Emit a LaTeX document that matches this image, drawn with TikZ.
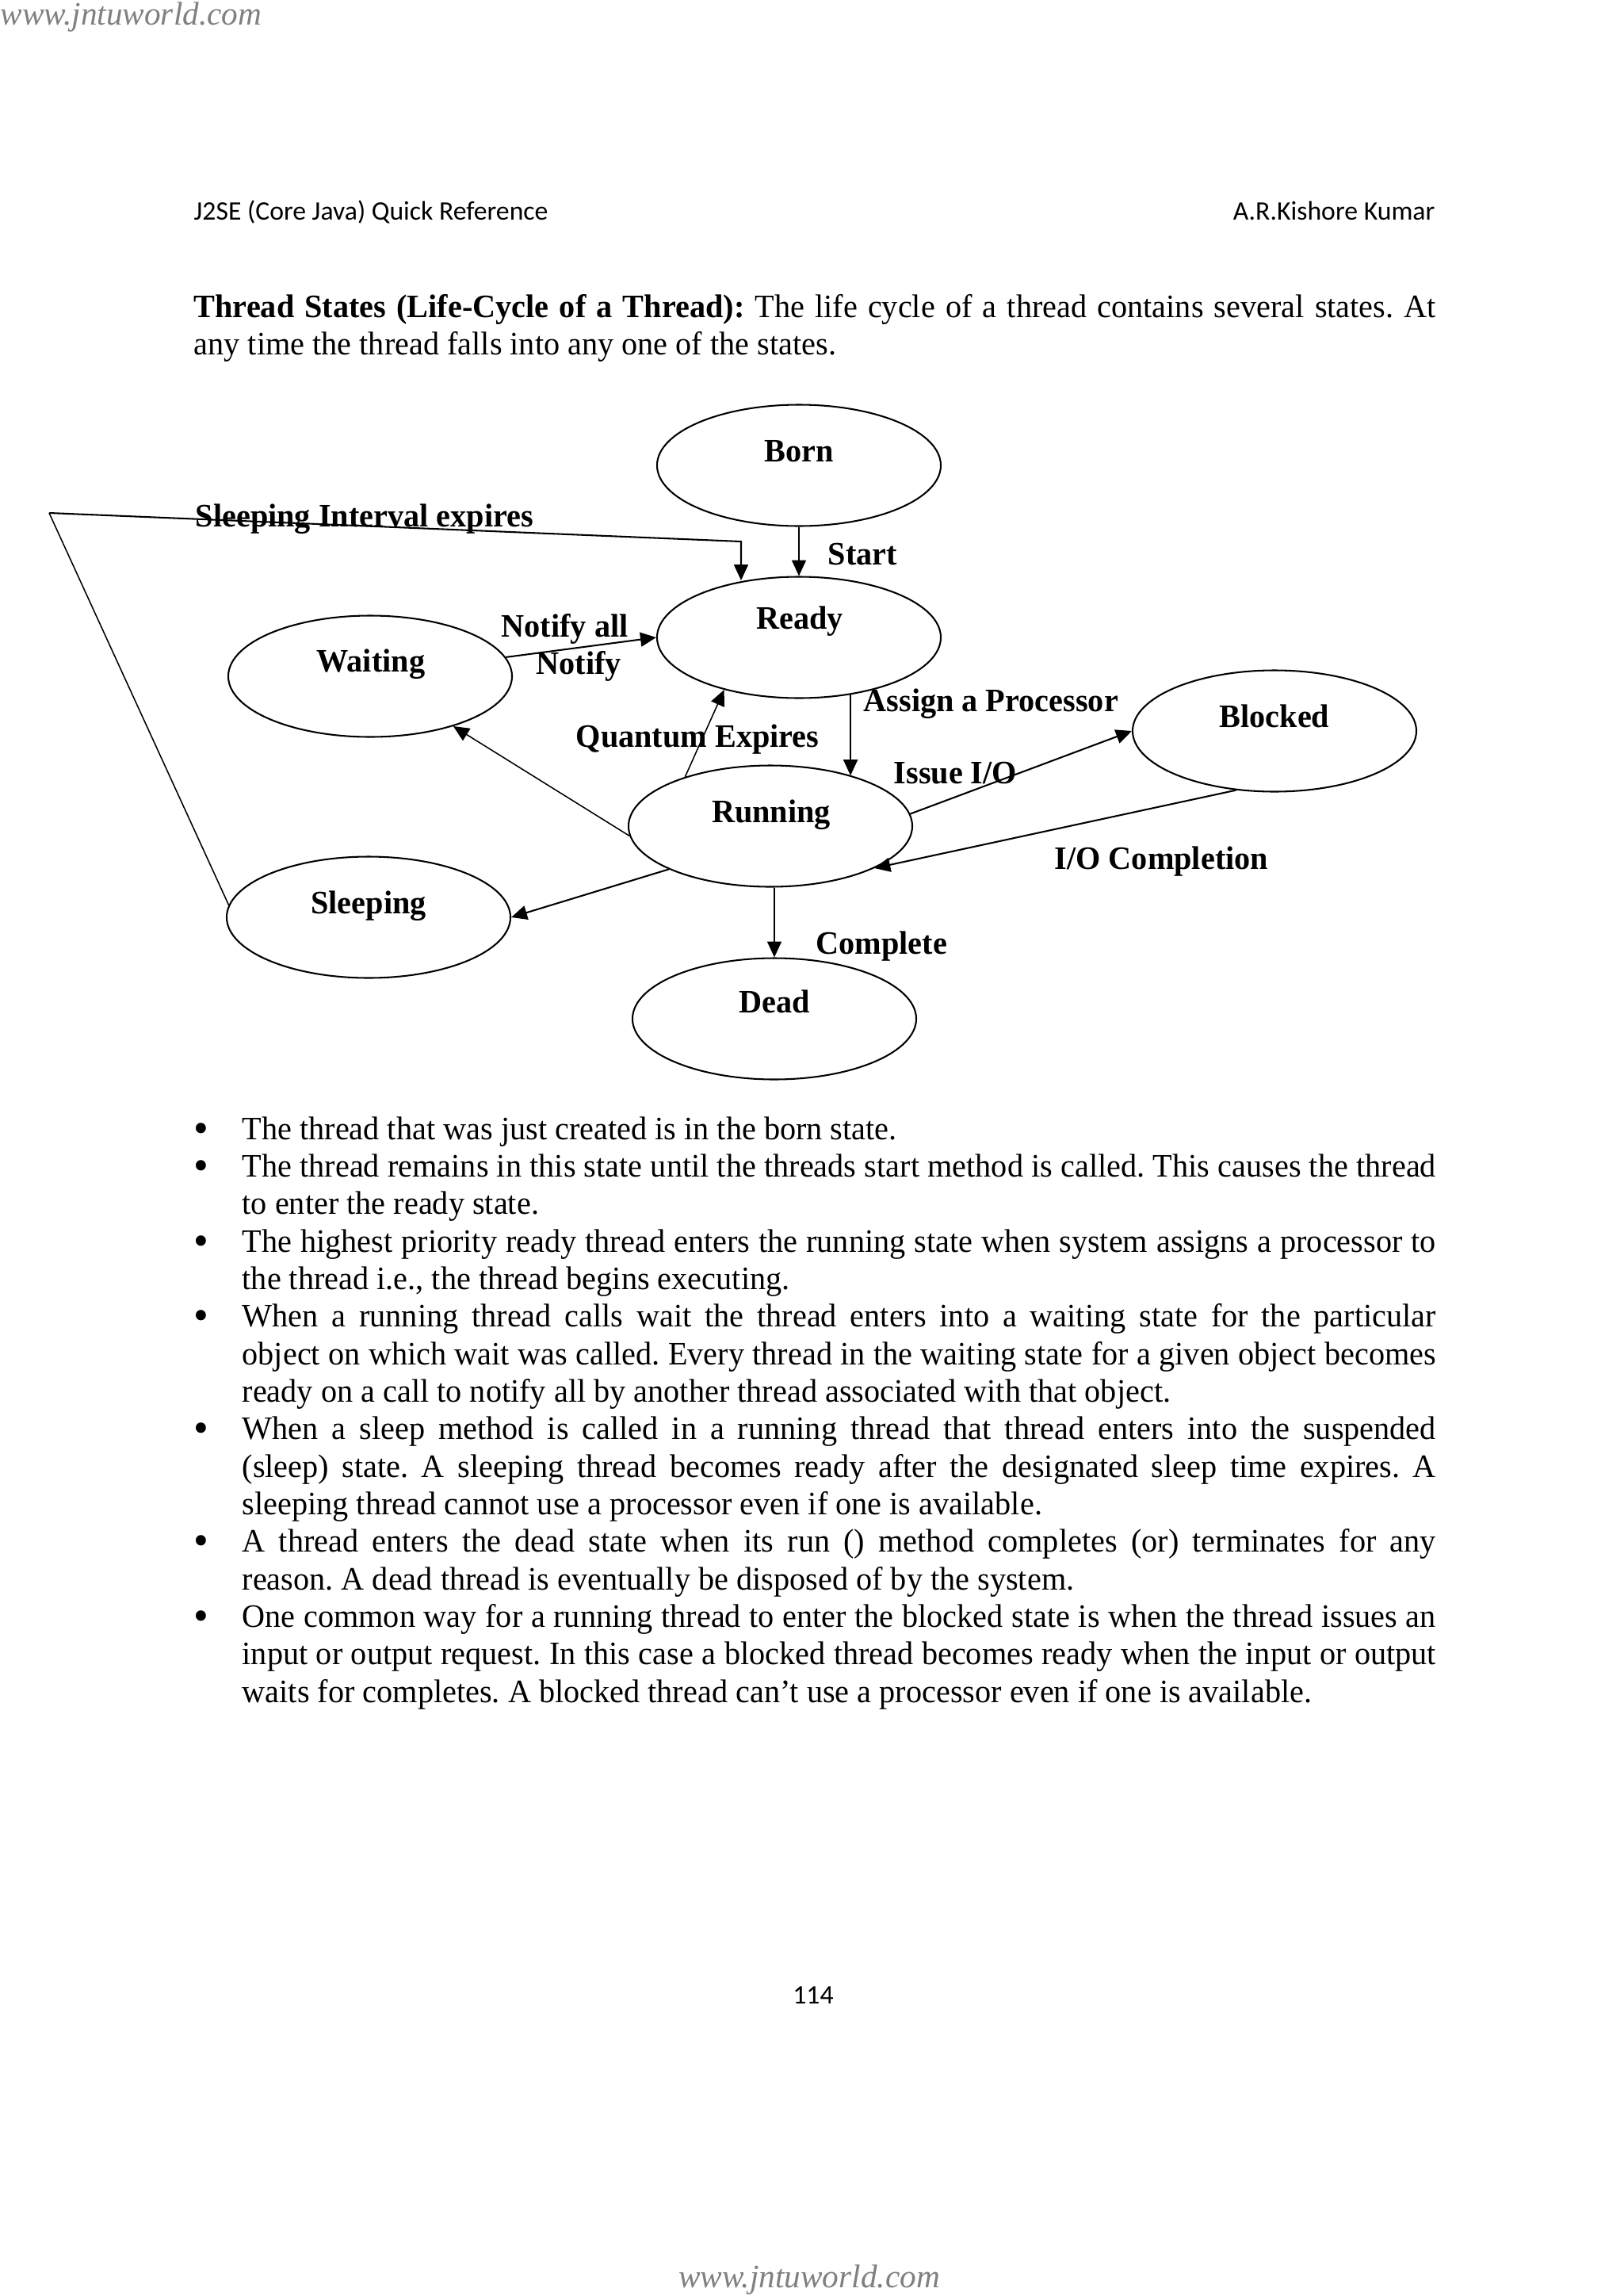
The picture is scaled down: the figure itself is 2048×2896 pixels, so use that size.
\documentclass[tikz,border=0pt]{standalone}
\usepackage{fontspec}
\setmainfont{Liberation Serif}[FakeStretch=0.975]
\newfontfamily\wmfont{Liberation Serif}
\newfontfamily\hdrfont{Carlito}
\usetikzlibrary{shapes.geometric,arrows.meta,calc}
\definecolor{wmgray}{RGB}{128,128,128}
\newcommand\twelve{\fontsize{12pt}{13.76pt}\selectfont}
\newcommand\bulmark{\noindent\llap{\makebox[17.73pt][l]{\raisebox{-1.2pt}{\fontsize{16pt}{16pt}\selectfont\textbullet}}}}
\begin{document}
\begin{tikzpicture}[x=0.290664pt,y=-0.290664pt,
  state/.style={draw, ellipse, line width=0.6pt, inner sep=0pt,
    minimum width=104.06pt, minimum height=44.47pt},
  slbl/.style={font=\twelve\bfseries, inner sep=0pt, anchor=base},
  elbl/.style={font=\twelve\bfseries, inner sep=0pt, anchor=base west},
  arr/.style={line width=0.6pt, -{Triangle[length=5.8pt,width=5.2pt]}},
  thinarr/.style={line width=0.45pt, -{Triangle[length=5.8pt,width=5.2pt]}},
  bodytext/.style={font=\twelve, inner sep=0pt, anchor=base west, align=justify},
  hdr/.style={font=\hdrfont\fontsize{9.8pt}{12pt}\selectfont, inner sep=0pt},
  wm/.style={font=\wmfont\fontsize{12pt}{14pt}\selectfont\itshape, text=wmgray, inner sep=0pt}]

\fill[white] (0,0) rectangle (2048,2896);
\path[use as bounding box] (0,0) rectangle (2048,2896);

% watermarks, header, footer
\node[wm, anchor=base west] (wmtop) at (0,31) {www.jntuworld.com};
\node[wm, anchor=base] (wmbot) at (1021,2885) {www.jntuworld.com};
\node[hdr, anchor=base west] (hdrl) at (244,277) {J2SE (Core Java) Quick Reference};
\node[hdr, anchor=base east] (hdrr) at (1811,277) {A.R.Kishore Kumar};
\node[hdr, anchor=base] (pageno) at (1026,2527) {114};

% heading paragraph
\node[bodytext, text width=455.5pt] (intro) at (244,400) {%
\frenchspacing\hyphenpenalty=10000\tolerance=10000
{\bfseries Thread States (Life-Cycle of a Thread):} The life cycle of a thread contains several states. At\linebreak
any time the thread falls into any one of the states.\par};

% states
\node[state] (born) at (1008,587) {};
\node[state] (ready) at (1008,804) {};
\node[state] (waiting) at (467,853) {};
\node[state] (sleep) at (465,1157) {};
\node[state] (running) at (972,1042) {};
\node[state] (blocked) at (1608,922) {};
\node[state] (dead) at (977,1285) {};

\node[slbl] (bornT) at (1008,582) {Born};
\node[slbl] (readyT) at (1009,793) {Ready};
\node[slbl] (waitingT) at (468,847) {Waiting};
\node[slbl] (sleepT) at (465,1152) {Sleeping};
\node[slbl] (runningT) at (973,1037) {Running};
\node[slbl] (blockedT) at (1608,917) {Blocked};
\node[slbl] (deadT) at (977,1277) {Dead};

% edge labels
\node[elbl] (lsleep) at (246,664) {Sleeping Interval expires};
\node[elbl] (lstart) at (1044,712) {Start};
\node[elbl] (lnotall) at (632,803) {Notify all};
\node[elbl] (lnot) at (676,850) {Notify};
\node[elbl] (lquant) at (726,942) {Quantum Expires};
\node[elbl] (lassign) at (1089,897) {Assign a Processor};
\node[elbl] (lissue) at (1127,988) {Issue I/O};
\node[elbl] (liocomp) at (1330,1096) {I/O Completion};
\node[elbl] (lcomplete) at (1029,1203) {Complete};

% connectors
\coordinate (s1) at (62,647);
\coordinate (s2) at (935,683);
\draw[line width=0.45pt] (sleep.175) -- (s1);
\draw[arr] (s1) -- (s2) -- (s2 |- ready.133);
\draw[arr] (born.south) -- (ready.north);
\draw[arr] (waiting.8) -- (ready.west);
\draw[thinarr] (running.150) -- (ready.215);
\draw[arr] (ready.-48) -- (ready.-48 |- running.32);
\draw[thinarr] (running.184) -- (waiting.-31);
\draw[arr] (running.203) -- (sleep.east);
\draw[arr] (running.5) -- (blocked.west);
\draw[arr] (blocked.237) -- (running.-22);
\draw[arr] (dead.north |- running.south) -- (dead.north);

% bullet list
\node[bodytext, text width=455.5pt] (list) at (244,1437) {%
\frenchspacing\hyphenpenalty=10000\tolerance=10000\parskip=0pt
\leftskip=17.73pt
\bulmark The thread that was just created is in the born state.\par
\bulmark The thread remains in this state until the threads start method is called. This causes the thread\linebreak
to enter the ready state.\par
\bulmark The highest priority ready thread enters the running state when system assigns a processor to\linebreak
the thread i.e., the thread begins executing.\par
\bulmark When a running thread calls wait the thread enters into a waiting state for the particular\linebreak
object on which wait was called. Every thread in the waiting state for a given object becomes\linebreak
ready on a call to notify all by another thread associated with that object.\par
\bulmark When a sleep method is called in a running thread that thread enters into the suspended\linebreak
(sleep) state. A sleeping thread becomes ready after the designated sleep time expires. A\linebreak
sleeping thread cannot use a processor even if one is available.\par
\bulmark A thread enters the dead state when its run () method completes (or) terminates for any\linebreak
reason. A dead thread is eventually be disposed of by the system.\par
\bulmark One common way for a running thread to enter the blocked state is when the thread issues an\linebreak
input or output request. In this case a blocked thread becomes ready when the input or output\linebreak
waits for completes. A blocked thread can’t use a processor even if one is available.\par};

\end{tikzpicture}
\end{document}
